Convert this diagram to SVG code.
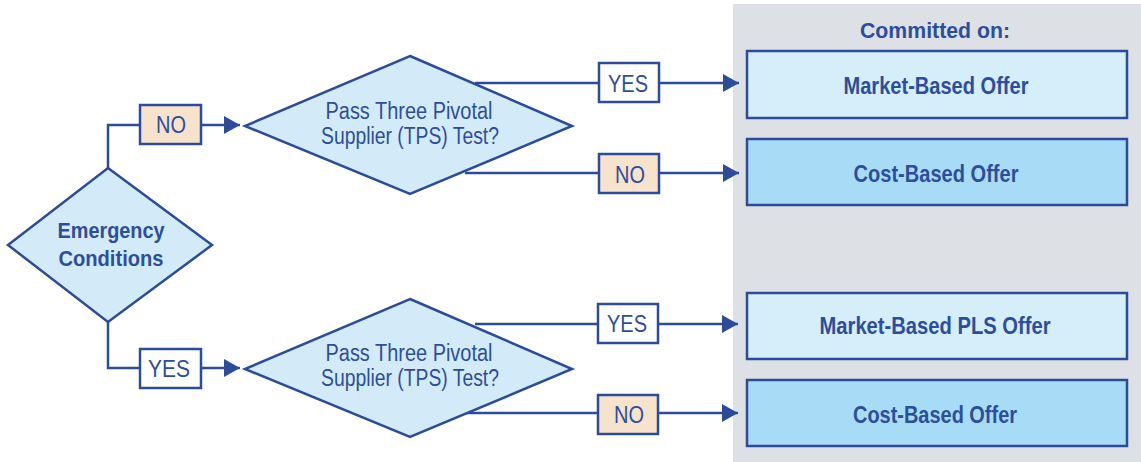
<svg xmlns="http://www.w3.org/2000/svg" width="1141" height="462" viewBox="0 0 1141 462">
  <style>
    .diamond { fill: #d3ebf9; stroke: #2c4b9b; stroke-width: 2.5; }
    .offer-mkt { fill: #d6edfa; stroke: #2c4b9b; stroke-width: 2.5; }
    .offer-cost { fill: #a8dcf6; stroke: #2c4b9b; stroke-width: 2.5; }
    .lbl-yes { fill: #ffffff; stroke: #2c4b9b; stroke-width: 2.5; }
    .lbl-no { fill: #f7e2cc; stroke: #2c4b9b; stroke-width: 2.5; }
    .wire { fill: none; stroke: #2c4b9b; stroke-width: 2.5; }
    text { font-family: "Liberation Sans", Arial, sans-serif; fill: #2d4e9c; text-anchor: middle; }
    .t-reg { font-size: 23px; }
    .t-bold { font-size: 22px; font-weight: bold; }
    .t-box { font-size: 24px; font-weight: bold; }
    .t-lbl { font-size: 24px; }
  </style>
  <defs>
    <marker id="arrow" markerUnits="userSpaceOnUse" markerWidth="17" markerHeight="19" refX="16" refY="9" orient="auto">
      <path d="M0,0 L16,9 L0,18 Z" fill="#2c4b9b"/>
    </marker>
  </defs>

  <!-- panel holding the committed offers -->
  <rect id="panel" x="733" y="4" width="408" height="458" fill="#dde1e5"/>
  <text x="935" y="38" class="t-bold" textLength="150" lengthAdjust="spacingAndGlyphs">Committed on:</text>

  <!-- connectors -->
  <g id="connectors">
    <polyline class="wire" points="108,168 108,125 140,125"/>
    <line class="wire" x1="201" y1="125" x2="240" y2="125" marker-end="url(#arrow)"/>
    <polyline class="wire" points="108,322 108,368 140,368"/>
    <line class="wire" x1="201" y1="368" x2="240" y2="368" marker-end="url(#arrow)"/>

    <line class="wire" x1="475" y1="83" x2="599" y2="83"/>
    <line class="wire" x1="659" y1="83" x2="739" y2="83" marker-end="url(#arrow)"/>
    <line class="wire" x1="465" y1="173" x2="599" y2="173"/>
    <line class="wire" x1="659" y1="173" x2="739" y2="173" marker-end="url(#arrow)"/>

    <line class="wire" x1="475" y1="324" x2="598" y2="324"/>
    <line class="wire" x1="658" y1="324" x2="738" y2="324" marker-end="url(#arrow)"/>
    <line class="wire" x1="465" y1="413" x2="598" y2="413"/>
    <line class="wire" x1="658" y1="413" x2="738" y2="413" marker-end="url(#arrow)"/>

    <!-- branch labels -->
    <g id="lbl-emerg-no">
      <rect class="lbl-no" x="140" y="105" width="61" height="39"/>
      <text x="171" y="133" class="t-lbl" textLength="30" lengthAdjust="spacingAndGlyphs">NO</text>
    </g>
    <g id="lbl-emerg-yes">
      <rect class="lbl-yes" x="140" y="349" width="61" height="39"/>
      <text x="169" y="377" class="t-lbl" textLength="42" lengthAdjust="spacingAndGlyphs">YES</text>
    </g>
    <g id="lbl-top-yes">
      <rect class="lbl-yes" x="599" y="63" width="60" height="39"/>
      <text x="628" y="92" class="t-lbl" textLength="40" lengthAdjust="spacingAndGlyphs">YES</text>
    </g>
    <g id="lbl-top-no">
      <rect class="lbl-no" x="599" y="154" width="60" height="39"/>
      <text x="630" y="183" class="t-lbl" textLength="30" lengthAdjust="spacingAndGlyphs">NO</text>
    </g>
    <g id="lbl-bot-yes">
      <rect class="lbl-yes" x="598" y="304" width="60" height="39"/>
      <text x="627" y="332" class="t-lbl" textLength="40" lengthAdjust="spacingAndGlyphs">YES</text>
    </g>
    <g id="lbl-bot-no">
      <rect class="lbl-no" x="598" y="395" width="60" height="39"/>
      <text x="629" y="423" class="t-lbl" textLength="30" lengthAdjust="spacingAndGlyphs">NO</text>
    </g>
  </g>

  <!-- decision: emergency conditions -->
  <g id="emergency">
    <polygon class="diamond" points="108,168 212,245 108,322 8,245"/>
    <text x="111" y="238" class="t-bold" textLength="107" lengthAdjust="spacingAndGlyphs">Emergency</text>
    <text x="111" y="266" class="t-bold" textLength="105" lengthAdjust="spacingAndGlyphs">Conditions</text>
  </g>

  <!-- decision: TPS test (no emergency) -->
  <g id="tps-top">
    <polygon class="diamond" points="410,56 572,126 410,194 245,126"/>
    <text x="409" y="119" class="t-reg" textLength="167" lengthAdjust="spacingAndGlyphs">Pass Three Pivotal</text>
    <text x="410" y="144" class="t-reg" textLength="178" lengthAdjust="spacingAndGlyphs">Supplier (TPS) Test?</text>
  </g>

  <!-- decision: TPS test (emergency) -->
  <g id="tps-bottom">
    <polygon class="diamond" points="410,299 572,369 410,437 245,369"/>
    <text x="409" y="361" class="t-reg" textLength="167" lengthAdjust="spacingAndGlyphs">Pass Three Pivotal</text>
    <text x="410" y="386" class="t-reg" textLength="178" lengthAdjust="spacingAndGlyphs">Supplier (TPS) Test?</text>
  </g>

  <!-- committed offers -->
  <g id="offer-market">
    <rect class="offer-mkt" x="747" y="51" width="380" height="67"/>
    <text x="936" y="94" class="t-box" textLength="185" lengthAdjust="spacingAndGlyphs">Market-Based Offer</text>
  </g>
  <g id="offer-cost-top">
    <rect class="offer-cost" x="747" y="139" width="380" height="66"/>
    <text x="936" y="182" class="t-box" textLength="165" lengthAdjust="spacingAndGlyphs">Cost-Based Offer</text>
  </g>
  <g id="offer-market-pls">
    <rect class="offer-mkt" x="747" y="293" width="380" height="66"/>
    <text x="935" y="334" class="t-box" textLength="231" lengthAdjust="spacingAndGlyphs">Market-Based PLS Offer</text>
  </g>
  <g id="offer-cost-bottom">
    <rect class="offer-cost" x="747" y="380" width="380" height="66"/>
    <text x="935" y="423" class="t-box" textLength="164" lengthAdjust="spacingAndGlyphs">Cost-Based Offer</text>
  </g>
</svg>
